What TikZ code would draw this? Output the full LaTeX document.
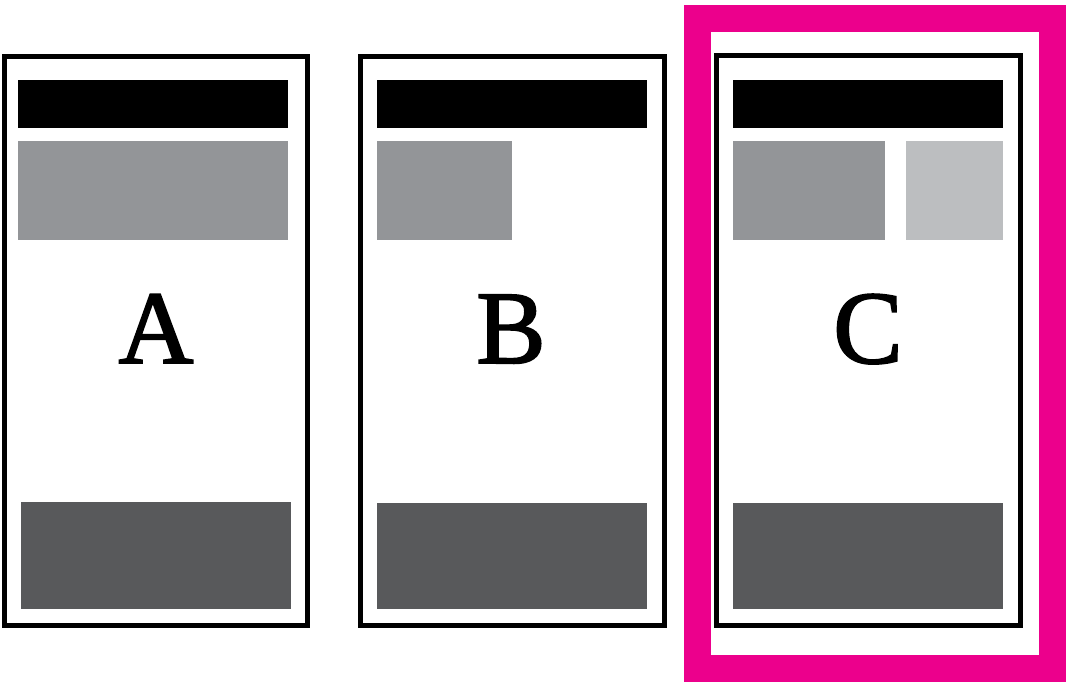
\documentclass[tikz,border=0pt]{standalone}
\usepackage{fontspec}
\setmainfont{Liberation Serif}
\newfontfamily\letterfont[FakeBold=1.8]{Liberation Serif}
\definecolor{barblack}{HTML}{000000}
\definecolor{midgray}{HTML}{939598}
\definecolor{lightgray2}{HTML}{BCBEC0}
\definecolor{darkgray2}{HTML}{58595B}
\definecolor{magentaA}{HTML}{EC008C}
\tikzset{
  frame/.style={draw=black, line width=5pt},
  hiframe/.style={draw=magentaA, line width=27pt},
  blk/.style={fill=barblack},
  mid/.style={fill=midgray},
  lite/.style={fill=lightgray2},
  dark/.style={fill=darkgray2},
  letter/.style={anchor=base, inner sep=0pt, font=\letterfont\fontsize{104}{104}\selectfont}
}
\begin{document}
\begin{tikzpicture}[x=1pt,y=-1pt]
\useasboundingbox (0,0) rectangle (1066,681);
% Panel A
\draw[frame] (4.5,56.5) rectangle (307.5,625.5);
\fill[blk] (18,80) rectangle (288,128);
\fill[mid] (18,141) rectangle (288,240);
\fill[dark] (21,502) rectangle (291,609);
\node[letter] (A) at (156,363) {A};
% Panel B
\draw[frame] (360.5,56.5) rectangle (664.5,625.5);
\fill[blk] (377,80) rectangle (647,128);
\fill[mid] (377,141) rectangle (512,240);
\fill[dark] (377,503) rectangle (647,609);
\node[letter] (B) at (511,363) {B};
% Panel C
\draw[hiframe] (697,18) rectangle (1052,668);
\draw[frame] (716.5,55.5) rectangle (1020.5,625.5);
\fill[blk] (733,80) rectangle (1003,128);
\fill[mid] (733,141) rectangle (885,240);
\fill[lite] (906,141) rectangle (1003,240);
\fill[dark] (733,503) rectangle (1003,609);
\node[letter] (C) at (868,363) {C};
\end{tikzpicture}
\end{document}
